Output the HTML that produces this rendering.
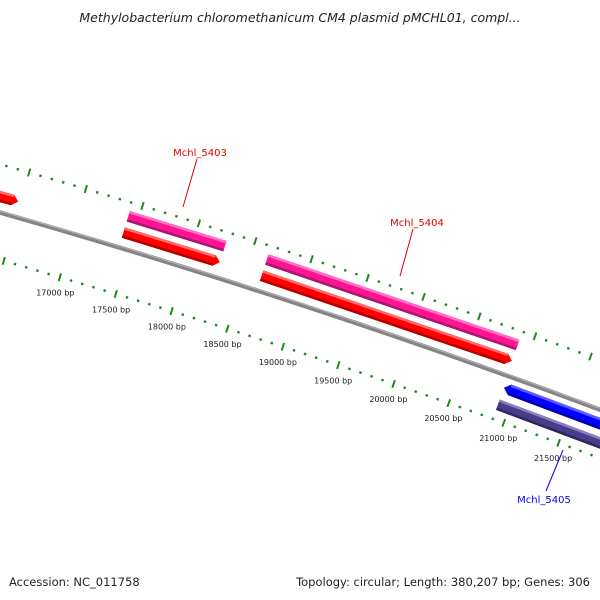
<!DOCTYPE html>
<html><head><meta charset="utf-8"><style>
html,body{margin:0;padding:0;background:#fff;}
svg{display:block;font-family:"DejaVu Sans","Liberation Sans",sans-serif;}
</style></head><body>
<svg id="chart" width="600" height="600" viewBox="0 0 600 600">
<rect width="600" height="600" fill="#fff"/>
<text x="300" y="22" text-anchor="middle" font-size="12.5" font-style="italic" fill="#222">Methylobacterium chloromethanicum CM4 plasmid pMCHL01, compl...</text>
<g id="rings"></g>
<g id="backbone"></g>
<g id="genes"></g>
<g id="labels"></g>
<text x="9" y="586" font-size="11.5" fill="#222">Accession: NC_011758</text>
<text x="590" y="586" text-anchor="end" font-size="11.5" fill="#222">Topology: circular; Length: 380,207 bp; Genes: 306</text>
</svg>
<script>
// data
const geneNames = ["Mchl_5402", "Mchl_5403", "Mchl_5404", "Mchl_5405"];
const geneStarts = [15800, 17410, 18640, 20900];
const geneEnds = [16480, 18268, 18886 + 2000, 22600];
const geneStrands = [1, 1, 1, -1];
const tickStart = 15000;
const tickEnd = 23500;
const tickLabels = ["17000 bp","17500 bp","18000 bp","18500 bp","19000 bp","19500 bp","20000 bp","20500 bp","21000 bp","21500 bp"];
const tickLabelValues = [17000,17500,18000,18500,19000,19500,20000,20500,21000,21500];

// geometry (arc model)
const NS = "http://www.w3.org/2000/svg";
const R = 7870, S = 0.1175, BP0 = 17000;
const O = [72.6, 234], N = [-0.283, 0.959];
const C = [O[0] + R * N[0], O[1] + R * N[1]];
const TH0 = Math.atan2(O[1] - C[1], O[0] - C[0]);
function th(bp){ return TH0 + (bp - BP0) * S / R; }
function pt(bp, v){ const t = th(bp), r = R - v; return [C[0] + r * Math.cos(t), C[1] + r * Math.sin(t)]; }
function mk(tag, attrs, parent){ const e = document.createElementNS(NS, tag); for (const k in attrs) e.setAttribute(k, attrs[k]); parent.appendChild(e); return e; }
function poly(pts){ return pts.map(p => p[0].toFixed(1) + "," + p[1].toFixed(1)).join(" "); }

// tick rings
const rings = document.getElementById("rings");
[ -46, 46 ].forEach(v => {
  for (let bp = tickStart; bp <= tickEnd; bp += 100) {
    const big = bp % 500 === 0;
    const h = big ? 4 : 1.2;
    const a = pt(bp, v - h), b = pt(bp, v + h);
    const ln = mk("line", {x1:a[0], y1:a[1], x2:b[0], y2:b[1], stroke:"#1b8a1b", "stroke-width": big ? 2 : 2.4}, rings);
    
    
  }
});
tickLabelValues.forEach((bp, i) => {
  const p = pt(bp, 62);
  const t = mk("text", {x:p[0].toFixed(1), y:(p[1] + 3).toFixed(1), "text-anchor":"middle", "font-size":"8", fill:"#222"}, rings);
  t.textContent = tickLabels[i];
  
  
});

// backbone
const bb = document.getElementById("backbone");
const bbPts = [];
for (let bp = tickStart; bp <= tickEnd; bp += 250) bbPts.push(pt(bp, 0.5));
const bl = mk("polyline", {points: poly(bbPts), fill:"none", stroke:"#858585", "stroke-width":"4.5"}, bb);


const bh = [];
for (let bp = tickStart; bp <= tickEnd; bp += 250) bh.push(pt(bp, -0.8));
const bhl = mk("polyline", {points: poly(bh), fill:"none", stroke:"#b5b5b5", "stroke-width":"1"}, bb);



// genes
const genes = document.getElementById("genes");
const TIP = 6 / S;
function bar(a, b, v1, v2, dir, main, light, dark, name){
  const vm = (v1 + v2) / 2;
  let pts;
  if (dir > 0) pts = [pt(a,v1), pt(b-TIP,v1), pt(b,vm), pt(b-TIP,v2), pt(a,v2)];
  else if (dir < 0) pts = [pt(a,vm), pt(a+TIP,v1), pt(b,v1), pt(b,v2), pt(a+TIP,v2)];
  else pts = [pt(a,v1), pt(b,v1), pt(b,v2), pt(a,v2)];
  const g = mk("g", {}, genes);
  
  
  mk("polygon", {points: poly(pts), fill: main}, g);
  const a2 = dir < 0 ? a + TIP : a, b2 = dir > 0 ? b - TIP : b;
  mk("polygon", {points: poly([pt(a2,v1), pt(b2,v1), pt(b2,v1+2.5), pt(a2,v1+2.5)]), fill: light}, g);
  mk("polygon", {points: poly([pt(a2,v2-2.5), pt(b2,v2-2.5), pt(b2,v2), pt(a2,v2)]), fill: dark}, g);
}
geneStarts.forEach((s, i) => {
  const e = geneEnds[i], d = geneStrands[i];
  if (d > 0) {
    if (i > 0) bar(s, e, -37.5, -26.5, 0, "#ff1493", "#ff6ec4", "#a8186e", geneNames[i] + "-cds");
    bar(s, e, -20.5, -9.5, 1, "#ff0000", "#ff6a6a", "#b00000", geneNames[i] + "-gene");
  } else {
    bar(s, e, 7.5, 18.5, -1, "#0000ff", "#5a5aff", "#0000a8", geneNames[i] + "-gene");
    bar(s, e, 25.5, 36.5, 0, "#483d8b", "#8a80c0", "#2e2660", geneNames[i] + "-cds");
  }
});

// labels
const labels = document.getElementById("labels");
const labelDefs = [
  {name:"Mchl_5403", x:200, y:156, lx1:197, ly1:159, lx2:183, ly2:207, c:"#e00000"},
  {name:"Mchl_5404", x:417, y:226, lx1:413, ly1:229, lx2:400, ly2:276, c:"#e00000"},
  {name:"Mchl_5405", x:544, y:503, lx1:546, ly1:491, lx2:563, ly2:450, c:"#0000ee"}
];
labelDefs.forEach(d => {
  const l = mk("line", {x1:d.lx1, y1:d.ly1, x2:d.lx2, y2:d.ly2, stroke:d.c, "stroke-width":"1"}, labels);
  
  
  const t = mk("text", {x:d.x, y:d.y, "text-anchor":"middle", "font-size":"10", fill:d.c}, labels);
  t.textContent = d.name;
  
  
});
</script>
</body></html>
